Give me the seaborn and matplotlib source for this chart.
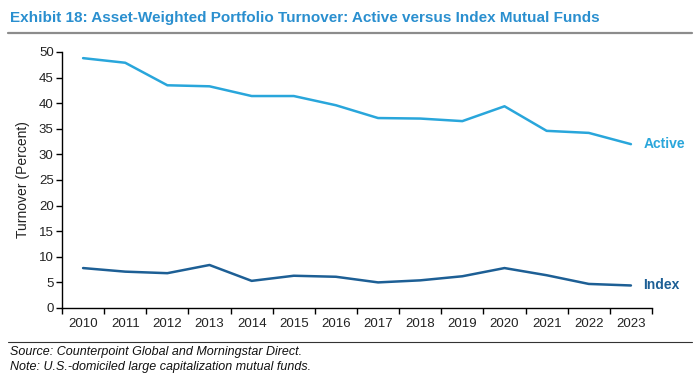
import pandas as pd
import numpy as np
import matplotlib
matplotlib.use("Agg")
import matplotlib.pyplot as plt
import seaborn as sns
from matplotlib.lines import Line2D

# data
years = ["2010", "2011", "2012", "2013", "2014", "2015", "2016",
         "2017", "2018", "2019", "2020", "2021", "2022", "2023"]
active = [48.8, 47.9, 43.5, 43.3, 41.4, 41.4, 39.6, 37.1, 37.0, 36.5, 39.4, 34.6, 34.2, 32.0]
index_funds = [7.8, 7.1, 6.8, 8.4, 5.3, 6.3, 6.1, 5.0, 5.4, 6.2, 7.8, 6.4, 4.7, 4.4]
series_names = ["Active", "Index"]
colors = {"Active": "#29a6db", "Index": "#1d5f95"}

df = pd.DataFrame({
    "pos": list(range(len(years))) * 2,
    "turnover": active + index_funds,
    "series": [series_names[0]] * len(years) + [series_names[1]] * len(years),
})

sns.set_style("white")
plt.rcParams["font.family"] = ["Liberation Sans", "DejaVu Sans"]

fig = plt.figure(figsize=(6.94, 3.82), dpi=100)
ax = fig.add_axes([62 / 694, 1 - 308 / 382, 590 / 694, 256 / 382])

sns.lineplot(data=df, x="pos", y="turnover", hue="series", palette=colors,
             linewidth=1.8, ax=ax, legend=False)

# end labels
for name, vals in zip(series_names, [active, index_funds]):
    ax.text(len(years) - 1 + 0.3, vals[-1], name, color=colors[name],
            fontsize=10, fontweight="bold", va="center", ha="left", clip_on=False)

ax.set_xlim(-0.5, len(years) - 0.5)
ax.set_ylim(0, 50)
ax.set_yticks(np.arange(0, 51, 5))
ax.set_xticks(np.arange(-0.5, len(years), 1))
ax.set_xticklabels([])
ax.set_xticks(range(len(years)), minor=True)
ax.set_xticklabels(years, minor=True)
ax.tick_params(axis="x", which="major", direction="out", length=4, width=1, color="black", bottom=True)
ax.tick_params(axis="x", which="minor", length=0, labelsize=9.5, pad=7, colors="#222222")
ax.tick_params(axis="y", direction="out", length=4, width=1, color="black", left=True,
               labelsize=9.5, pad=2, labelcolor="#222222")
ax.set_xlabel("")
ax.set_ylabel("Turnover (Percent)", fontsize=10, color="#222222", labelpad=6)

sns.despine(ax=ax)
for s in ["left", "bottom"]:
    ax.spines[s].set_color("black")
    ax.spines[s].set_linewidth(1)

# title and rules
fig.text(10 / 694, 1 - 18 / 382, "Exhibit 18: Asset-Weighted Portfolio Turnover: Active versus Index Mutual Funds",
         color="#2a8fcf", fontsize=11, fontweight="bold", va="center", ha="left")
fig.add_artist(Line2D([8 / 694, 692 / 694], [1 - 33 / 382] * 2, color="#8c8c8c", linewidth=1.6))
fig.add_artist(Line2D([8 / 694, 692 / 694], [1 - 342 / 382] * 2, color="#333333", linewidth=0.8))

fig.text(10 / 694, 1 - 352 / 382, "Source: Counterpoint Global and Morningstar Direct.",
         fontsize=9, style="italic", va="center", ha="left", color="#111111")
fig.text(10 / 694, 1 - 367 / 382, "Note: U.S.-domiciled large capitalization mutual funds.",
         fontsize=9, style="italic", va="center", ha="left", color="#111111")

fig.savefig("out.png", dpi=100)
